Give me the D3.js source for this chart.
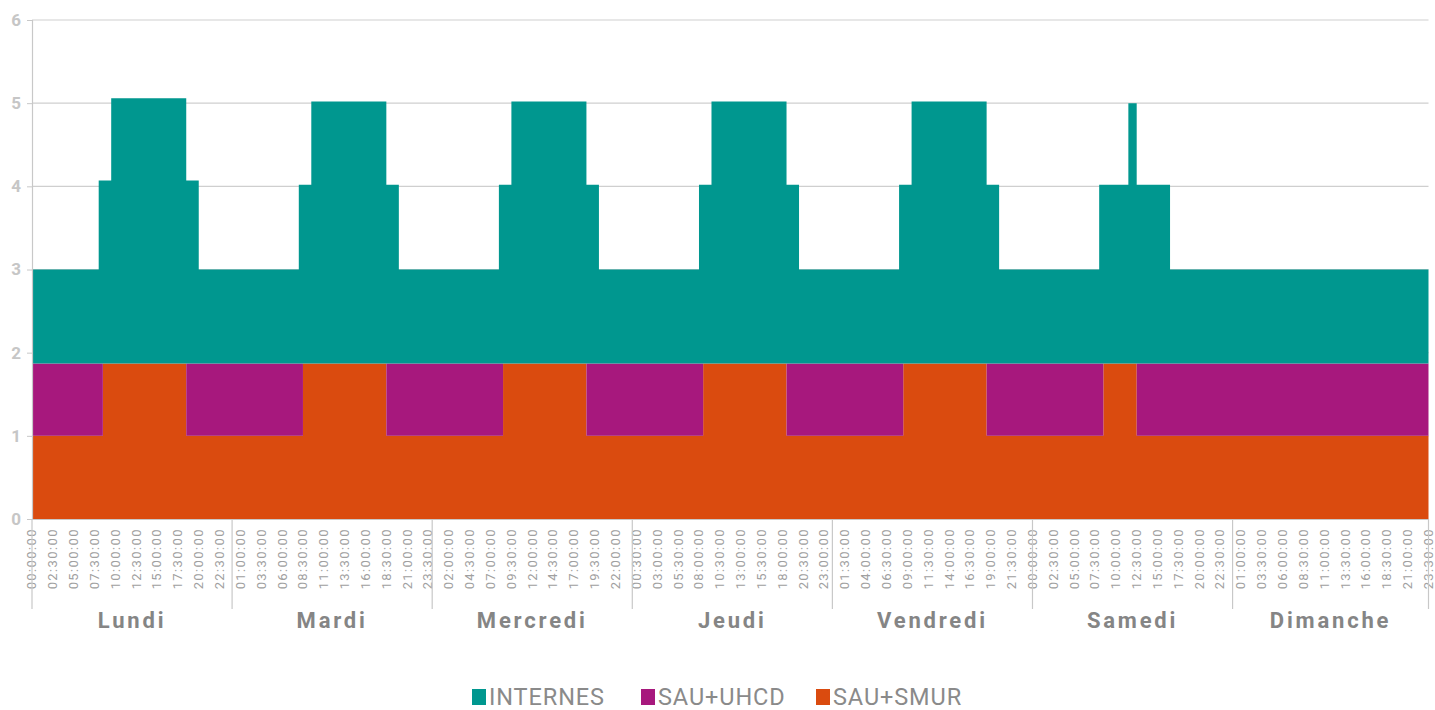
<!DOCTYPE html>
<html>
<head>
<meta charset="utf-8">
<script src="https://cdn.jsdelivr.net/npm/d3@7"></script>
<style>
  html, body { margin: 0; padding: 0; background: #ffffff; }
  svg { display: block; }
</style>
</head>
<body>
<svg id="chart" width="1435" height="710"></svg>
<script>
// ---------- DATA ----------
const days = ["Lundi", "Mardi", "Mercredi", "Jeudi", "Vendredi", "Samedi", "Dimanche"];
const timeSlots = [
  "00:00:00","00:30:00","01:00:00","01:30:00","02:00:00","02:30:00","03:00:00","03:30:00",
  "04:00:00","04:30:00","05:00:00","05:30:00","06:00:00","06:30:00","07:00:00","07:30:00",
  "08:00:00","08:30:00","09:00:00","09:30:00","10:00:00","10:30:00","11:00:00","11:30:00",
  "12:00:00","12:30:00","13:00:00","13:30:00","14:00:00","14:30:00","15:00:00","15:30:00",
  "16:00:00","16:30:00","17:00:00","17:30:00","18:00:00","18:30:00","19:00:00","19:30:00",
  "20:00:00","20:30:00","21:00:00","21:30:00","22:00:00","22:30:00","23:00:00","23:30:00"
];
const seriesNames = ["INTERNES", "SAU+UHCD", "SAU+SMUR"];
const seriesColors = ["#00978F", "#A7187D", "#DA4B0F"];
const yTicks = [0, 1, 2, 3, 4, 5, 6];

// Values per day, as runs: [first half-hour slot of the run, value]
const sauSmur = [
  [[0, 1], [17, 1.87], [37, 1]],      // Lundi
  [[0, 1], [17, 1.87], [37, 1]],      // Mardi
  [[0, 1], [17, 1.87], [37, 1]],      // Mercredi
  [[0, 1], [17, 1.87], [37, 1]],      // Jeudi
  [[0, 1], [17, 1.87], [37, 1]],      // Vendredi
  [[0, 1], [17, 1.87], [25, 1]],      // Samedi
  [[0, 1]]                            // Dimanche
];
const sauUhcd = [
  [[0, 0.87], [17, 0], [37, 0.87]],
  [[0, 0.87], [17, 0], [37, 0.87]],
  [[0, 0.87], [17, 0], [37, 0.87]],
  [[0, 0.87], [17, 0], [37, 0.87]],
  [[0, 0.87], [17, 0], [37, 0.87]],
  [[0, 0.87], [17, 0], [25, 0.87]],
  [[0, 0.87]]
];
const internes = [
  [[0, 1.13], [16, 2.2], [19, 3.19], [37, 2.2], [40, 1.13]],
  [[0, 1.13], [16, 2.15], [19, 3.15], [37, 2.15], [40, 1.13]],
  [[0, 1.13], [16, 2.15], [19, 3.15], [37, 2.15], [40, 1.13]],
  [[0, 1.13], [16, 2.15], [19, 3.15], [37, 2.15], [40, 1.13]],
  [[0, 1.13], [16, 2.15], [19, 3.15], [37, 2.15], [40, 1.13]],
  [[0, 1.13], [16, 2.15], [23, 3.13], [25, 2.15], [33, 1.13]],
  [[0, 1.13]]
];

// ---------- BUILD TABLE ----------
function valueAt(runs, slot) {
  let v = runs[0][1];
  for (const r of runs) if (r[0] <= slot) v = r[1];
  return v;
}
const rows = [];
days.forEach((day, d) => {
  timeSlots.forEach((t, s) => {
    rows.push({
      idx: d * timeSlots.length + s,
      day: day,
      time: t,
      "INTERNES": valueAt(internes[d], s),
      "SAU+UHCD": valueAt(sauUhcd[d], s),
      "SAU+SMUR": valueAt(sauSmur[d], s)
    });
  });
});
const nSlots = rows.length;

// ---------- LAYOUT ----------
const svg = d3.select("#chart");
const mLeft = 32, mRight = 1428.5, mTop = 20, mBottom = 519;

const x = d3.scaleLinear().domain([0, nSlots - 1]).range([mLeft, mRight]);
const y = d3.scaleLinear().domain([0, 6]).range([mBottom, mTop]);

// gridlines
svg.append("g")
  .selectAll("line")
  .data(yTicks.filter(v => v > 0))
  .join("line")
  .attr("x1", mLeft).attr("x2", mRight)
  .attr("y1", d => y(d)).attr("y2", d => y(d))
  .attr("stroke", "#cfcfcf").attr("stroke-width", 1.2);

// stacked areas (bottom: SAU+SMUR, middle: SAU+UHCD, top: INTERNES)
const stackKeys = ["SAU+SMUR", "SAU+UHCD", "INTERNES"];
const stacked = d3.stack().keys(stackKeys)(rows);
const area = d3.area()
  .curve(d3.curveStepAfter)
  .x(d => x(d.data.idx))
  .y0(d => y(d[0]))
  .y1(d => y(d[1]));

svg.append("g")
  .selectAll("path")
  .data(stacked)
  .join("path")
  .attr("fill", d => seriesColors[seriesNames.indexOf(d.key)])
  .attr("d", area);

// y axis
const yAxis = d3.axisLeft(y).tickValues(yTicks).tickSize(5).tickPadding(6).tickFormat(d3.format("d"));
const gy = svg.append("g").attr("transform", `translate(${mLeft},0)`).call(yAxis);
gy.select(".domain").attr("stroke", "#c8c8c8").attr("stroke-width", 1.2);
gy.selectAll(".tick line").attr("stroke", "#c8c8c8");
gy.selectAll(".tick text")
  .attr("fill", "#c6c6c6")
  .attr("font-family", "Roboto, 'DejaVu Sans', sans-serif")
  .attr("font-weight", "bold")
  .attr("font-size", "17px");

// x axis (ticks every 5 half-hour slots)
const tickIdx = d3.range(0, nSlots, 5);
const xAxis = d3.axisBottom(x)
  .tickValues(tickIdx)
  .tickSize(0)
  .tickFormat(i => rows[i].time);
const gx = svg.append("g").attr("transform", `translate(0,${mBottom})`).call(xAxis);
gx.select(".domain").attr("stroke", "#c8c8c8").attr("stroke-width", 1.2);
gx.selectAll(".tick text")
  .attr("transform", "rotate(-90)")
  .attr("text-anchor", "end")
  .attr("x", -9)
  .attr("y", 0)
  .attr("dy", "0.3em")
  .attr("fill", "#a0a0a0")
  .attr("font-family", "Roboto, 'DejaVu Sans', sans-serif")
  .attr("font-size", "13px")
  .attr("letter-spacing", "1.4px");

// day separators
const dayBounds = d3.range(0, days.length + 1).map(k => Math.min(k * timeSlots.length, nSlots - 1));
svg.append("g")
  .selectAll("line")
  .data(dayBounds)
  .join("line")
  .attr("x1", d => x(d)).attr("x2", d => x(d))
  .attr("y1", mBottom).attr("y2", 609)
  .attr("stroke", "#c8c8c8").attr("stroke-width", 1.2);

// day labels
svg.append("g")
  .selectAll("text")
  .data(days)
  .join("text")
  .attr("x", (d, i) => (x(i * timeSlots.length) + x(Math.min((i + 1) * timeSlots.length, nSlots - 1))) / 2)
  .attr("y", 628)
  .attr("text-anchor", "middle")
  .attr("fill", "#858585")
  .attr("font-family", "Roboto, 'DejaVu Sans', sans-serif")
  .attr("font-weight", "bold")
  .attr("font-size", "22px")
  .attr("letter-spacing", "2.8px")
  .text(d => d);

// legend
const legendX = [472, 641, 816];
const lg = svg.append("g");
seriesNames.forEach((name, i) => {
  lg.append("rect")
    .attr("x", legendX[i]).attr("y", 689)
    .attr("width", 14).attr("height", 16)
    .attr("fill", seriesColors[i]);
  lg.append("text")
    .attr("x", legendX[i] + 17).attr("y", 705)
    .attr("fill", "#8a8a8a")
    .attr("font-family", "Roboto, 'DejaVu Sans', sans-serif")
    .attr("font-size", "23.5px")
    .attr("letter-spacing", "0.9px")
    .text(name);
});
</script>
</body>
</html>
